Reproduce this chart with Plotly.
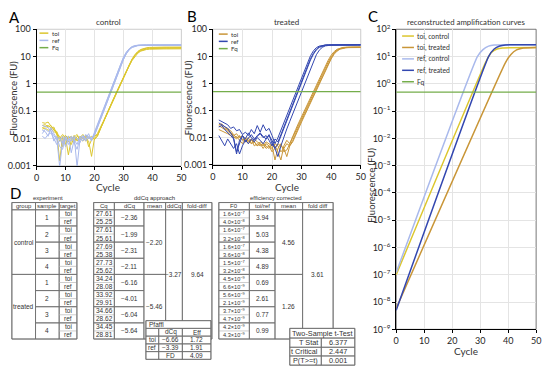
import plotly.graph_objects as go

W, H = 550, 375

# ---------------- data ----------------
CYCLES = list(range(1, 51))
START_CYCLE = 2
FQ = 0.5

CTRL_TOI = [
    [0.038, 0.036, 0.040, 0.028, 0.022, 0.016, 0.0015, 0.012, 0.010, 0.008, 0.006, 0.011, 0.009, 0.012, 0.010, 0.013, 0.005, 0.009, 0.011,
     0.015, 0.024, 0.041, 0.071, 0.122, 0.21, 0.36, 0.62, 1.07, 1.84, 3.1, 5.1, 8.2, 12, 15.5, 18.2, 20, 21, 21.6, 22, 22, 22.1, 22.1, 22.2, 22.2, 22.2, 22.3, 22.3, 22.3, 22.3],
    [0.030, 0.032, 0.026, 0.030, 0.020, 0.018, 0.010, 0.014, 0.011, 0.0025, 0.009, 0.013, 0.008, 0.011, 0.014, 0.010, 0.008, 0.0022, 0.010,
     0.012, 0.022, 0.040, 0.070, 0.12, 0.21, 0.36, 0.62, 1.06, 1.82, 3.05, 5.0, 8.0, 11.6, 15, 17.6, 19.3, 20.2, 20.7, 21, 21, 21.1, 21.1, 21.1, 21.2, 21.2, 21.2, 21.2, 21.3, 21.3],
    [0.025, 0.028, 0.030, 0.024, 0.026, 0.014, 0.012, 0.005, 0.013, 0.010, 0.012, 0.007, 0.012, 0.010, 0.008, 0.012, 0.011, 0.009, 0.013,
     0.013, 0.023, 0.039, 0.067, 0.115, 0.20, 0.34, 0.59, 1.01, 1.74, 2.95, 4.8, 7.6, 11, 14.2, 16.6, 18.2, 19.1, 19.6, 19.9, 20, 20, 20.1, 20.1, 20.1, 20.2, 20.2, 20.2, 20.2, 20.2],
    [0.022, 0.024, 0.020, 0.022, 0.018, 0.015, 0.008, 0.011, 0.006, 0.012, 0.010, 0.011, 0.014, 0.009, 0.011, 0.008, 0.010, 0.012, 0.009,
     0.012, 0.022, 0.038, 0.065, 0.112, 0.19, 0.33, 0.57, 0.98, 1.69, 2.85, 4.6, 7.2, 10.4, 13.4, 15.8, 17.3, 18.2, 18.6, 18.9, 19, 19, 19.1, 19.1, 19.1, 19.1, 19.2, 19.2, 19.2, 19.2],
]
CTRL_REF = [
    [0.020, 0.018, 0.012, 0.025, 0.015, 0.010, 0.0009, 0.008, 0.012, 0.006, 0.010, 0.012, 0.0009, 0.009, 0.011, 0.010, 0.015, 0.008,
     0.017, 0.032, 0.061, 0.116, 0.22, 0.42, 0.81, 1.55, 2.95, 5.5, 9.5, 14.5, 19.5, 23, 25, 26, 26.3, 26.4, 26.5, 26.5, 26.5, 26.6, 26.6, 26.6, 26.6, 26.6, 26.7, 26.7, 26.7, 26.7, 26.7],
    [0.015, 0.022, 0.018, 0.020, 0.008, 0.012, 0.005, 0.004, 0.010, 0.012, 0.003, 0.009, 0.006, 0.012, 0.008, 0.014, 0.010, 0.011,
     0.013, 0.025, 0.048, 0.092, 0.176, 0.34, 0.64, 1.23, 2.35, 4.4, 7.9, 12.8, 18, 22, 24.5, 25.6, 26, 26.1, 26.1, 26.2, 26.2, 26.2, 26.2, 26.3, 26.3, 26.3, 26.3, 26.3, 26.3, 26.3, 26.3],
    [0.030, 0.028, 0.025, 0.018, 0.012, 0.009, 0.011, 0.006, 0.010, 0.008, 0.012, 0.007, 0.004, 0.010, 0.013, 0.009, 0.012, 0.010,
     0.015, 0.029, 0.056, 0.106, 0.20, 0.39, 0.74, 1.41, 2.7, 5.0, 8.9, 14, 19.2, 23.2, 25.4, 26.4, 26.8, 26.9, 27, 27, 27, 27, 27.1, 27.1, 27.1, 27.1, 27.1, 27.1, 27.2, 27.2, 27.2],
    [0.012, 0.010, 0.014, 0.016, 0.010, 0.006, 0.008, 0.012, 0.005, 0.010, 0.008, 0.011, 0.010, 0.007, 0.012, 0.008, 0.011, 0.009,
     0.013, 0.025, 0.047, 0.09, 0.173, 0.33, 0.63, 1.21, 2.3, 4.3, 7.7, 12.5, 17.6, 21.5, 24, 25, 25.4, 25.5, 25.5, 25.6, 25.6, 25.6, 25.6, 25.6, 25.7, 25.7, 25.7, 25.7, 25.7, 25.7, 25.7],
]
TRT_REF = [
    [0.045, 0.040, 0.035, 0.030, 0.022, 0.025, 0.018, 0.020, 0.013, 0.016, 0.012, 0.020, 0.014, 0.028, 0.016, 0.030, 0.018, 0.022, 0.012, 0.006, 0.010,
     0.019, 0.036, 0.069, 0.13, 0.25, 0.47, 0.91, 1.74, 3.3, 6.0, 10.5, 16, 21, 24, 25.6, 26.2, 26.4, 26.5, 26.5, 26.5, 26.6, 26.6, 26.6, 26.6, 26.6, 26.6, 26.7, 26.7],
    [0.035, 0.030, 0.026, 0.022, 0.015, 0.010, 0.003, 0.006, 0.012, 0.009, 0.015, 0.010, 0.008, 0.012, 0.015, 0.011, 0.009, 0.013, 0.006, 0.004, 0.002, 0.005, 0.011,
     0.021, 0.040, 0.076, 0.145, 0.28, 0.53, 1.01, 1.93, 3.7, 6.8, 11.5, 17, 21.5, 24.3, 25.6, 26, 26.1, 26.1, 26.2, 26.2, 26.2, 26.2, 26.3, 26.3, 26.3, 26.3],
    [0.025, 0.028, 0.020, 0.016, 0.012, 0.009, 0.0025, 0.008, 0.012, 0.007, 0.010, 0.013, 0.009, 0.011, 0.014, 0.010, 0.012, 0.008, 0.005, 0.009, 0.007,
     0.013, 0.025, 0.049, 0.093, 0.18, 0.34, 0.64, 1.23, 2.35, 4.5, 8.2, 13, 18.5, 22.5, 25, 26.3, 26.8, 27, 27, 27.1, 27.1, 27.1, 27.1, 27.2, 27.2, 27.2, 27.2, 27.2],
    [0.012, 0.008, 0.005, 0.009, 0.006, 0.004, 0.006, 0.0025, 0.005, 0.008, 0.006, 0.009, 0.007, 0.010, 0.008, 0.006, 0.009, 0.012, 0.008, 0.004, 0.006,
     0.0116, 0.022, 0.043, 0.081, 0.156, 0.30, 0.56, 1.08, 2.06, 3.9, 7.3, 12, 17.3, 21.5, 24, 25.2, 25.6, 25.8, 25.8, 25.9, 25.9, 25.9, 25.9, 25.9, 26, 26, 26, 26],
]
TRT_TOI = [
    [0.030, 0.032, 0.025, 0.020, 0.016, 0.012, 0.014, 0.010, 0.012, 0.008, 0.010, 0.006, 0.009, 0.007, 0.006, 0.005, 0.007, 0.006, 0.005, 0.0015, 0.004, 0.006, 0.003, 0.0035, 0.006, 0.009,
     0.017, 0.029, 0.0495, 0.085, 0.146, 0.25, 0.44, 0.75, 1.29, 2.2, 3.8, 6.2, 9.6, 13.5, 17, 19.5, 20.8, 21.4, 21.6, 21.6, 21.7, 21.7, 21.7],
    [0.025, 0.028, 0.022, 0.018, 0.014, 0.011, 0.009, 0.012, 0.008, 0.010, 0.007, 0.009, 0.005, 0.006, 0.005, 0.006, 0.005, 0.004, 0.006, 0.005, 0.003, 0.0015, 0.005, 0.008, 0.006, 0.012,
     0.020, 0.035, 0.060, 0.10, 0.18, 0.30, 0.52, 0.90, 1.55, 2.65, 4.5, 7.2, 11, 15, 18.3, 20.3, 21.3, 21.8, 22, 22, 22.1, 22.1, 22.1],
    [0.020, 0.018, 0.016, 0.014, 0.012, 0.010, 0.011, 0.008, 0.006, 0.009, 0.006, 0.008, 0.007, 0.005, 0.006, 0.004, 0.006, 0.005, 0.004, 0.006, 0.005, 0.003, 0.004, 0.006, 0.005, 0.007,
     0.013, 0.022, 0.038, 0.065, 0.11, 0.19, 0.33, 0.57, 0.98, 1.7, 2.9, 4.9, 8, 12, 15.6, 18.4, 20, 20.7, 21, 21.1, 21.1, 21.2, 21.2],
    [0.028, 0.024, 0.020, 0.022, 0.018, 0.013, 0.010, 0.011, 0.009, 0.007, 0.008, 0.006, 0.007, 0.005, 0.007, 0.006, 0.004, 0.005, 0.003, 0.004, 0.006, 0.005, 0.004, 0.002, 0.005, 0.008,
     0.015, 0.025, 0.043, 0.074, 0.127, 0.22, 0.38, 0.65, 1.12, 1.93, 3.3, 5.5, 8.8, 12.8, 16.5, 19.2, 20.7, 21.4, 21.7, 21.8, 21.8, 21.9, 21.9],
]

# reconstructed curves (panel C)
REC_TOI_CTRL_X = [0, 32, 34, 36, 38, 50]
REC_TOI_CTRL_Y = [1.0e-7, 6.3, 14, 19, 20.7, 21.3]
REC_TOI_TRT_X = [0, 39, 41, 43, 45, 50]
REC_TOI_TRT_Y = [5.8e-9, 5.9, 12, 17.5, 20.3, 21.3]
REC_REF_CTRL_X = [0, 29, 31, 33, 35, 50]
REC_REF_CTRL_Y = [1.2e-7, 10, 18, 24, 26.5, 27]
REC_REF_TRT_X = [0, 33, 35, 37, 39, 50]
REC_REF_TRT_Y = [5e-9, 10, 19, 24.5, 26.6, 27]

# tables (panel D)
GROUPS = ["control", "treated"]
SAMPLES = ["1", "2", "3", "4"]
TARGETS = ["toi", "ref"]
CQ = ["27.61", "25.25", "27.61", "25.61", "27.69", "25.38", "27.73", "25.62",
      "34.24", "28.08", "33.92", "29.91", "34.66", "28.62", "34.45", "28.81"]
DCQ = ["−2.36", "−1.99", "−2.31", "−2.11", "−6.16", "−4.01", "−6.04", "−5.64"]
DCQ_MEAN = ["−2.20", "−5.46"]
DDCQ = "−3.27"
DDCQ_FOLD = "9.64"
F0_MANT = ["1.6", "4.0", "1.6", "3.2", "1.6", "3.6", "1.5", "3.2",
           "4.5", "6.6", "5.6", "2.1", "3.7", "4.7", "4.2", "4.3"]
F0_EXP = ["7", "8", "7", "8", "7", "8", "7", "8", "9", "9", "9", "9", "9", "9", "9", "9"]
TOI_REF = ["3.94", "5.03", "4.38", "4.89", "0.69", "2.61", "0.77", "0.99"]
EFF_MEAN = ["4.56", "1.26"]
EFF_FOLD = "3.61"
PFAFFL_ROWS = [["", "dCq", "Eff"], ["toi", "−6.66", "1.72"], ["ref", "−3.39", "1.91"], ["", "FD", "4.09"]]
TTEST_ROWS = [["T Stat", "6.377"], ["t Critical", "2.447"], ["P(T>=t)", "0.001"]]

# ---------------- styles ----------------
C_TOI_CTRL = "#dcc62e"
C_TOI_TRT = "#c99638"
C_REF_CTRL = "#a9b9ec"
C_REF_TRT = "#3347b0"
C_FQ = "#74ad4a"
FONT = "Lato"
TFONT = "Liberation Sans"
TXT = "#333333"
DARK = "#6f6f6f"
LIGHT = "#b8b8b8"

fig = go.Figure()


def add_curves(ys, color, xa, ya, width=1):
    for y in ys:
        x = CYCLES[START_CYCLE - 1:START_CYCLE - 1 + len(y)]
        fig.add_trace(go.Scatter(x=x, y=y, mode="lines", line=dict(color=color, width=width),
                                 xaxis=xa, yaxis=ya, showlegend=False, hoverinfo="skip"))


def add_fq(xa, ya):
    fig.add_trace(go.Scatter(x=[CYCLES[0] - 1, CYCLES[-1]], y=[FQ, FQ], mode="lines",
                             line=dict(color=C_FQ, width=1.2), xaxis=xa, yaxis=ya,
                             showlegend=False, hoverinfo="skip"))


# Panel A
add_curves(CTRL_TOI, C_TOI_CTRL, "x", "y")
add_curves(CTRL_REF, C_REF_CTRL, "x", "y")
add_fq("x", "y")
# Panel B
add_curves(TRT_TOI, C_TOI_TRT, "x2", "y2")
add_curves(TRT_REF, C_REF_TRT, "x2", "y2")
add_fq("x2", "y2")
# Panel C
for xs, ys, c in [(REC_TOI_CTRL_X, REC_TOI_CTRL_Y, C_TOI_CTRL), (REC_TOI_TRT_X, REC_TOI_TRT_Y, C_TOI_TRT),
                  (REC_REF_CTRL_X, REC_REF_CTRL_Y, C_REF_CTRL), (REC_REF_TRT_X, REC_REF_TRT_Y, C_REF_TRT)]:
    fig.add_trace(go.Scatter(x=xs, y=ys, mode="lines", line=dict(color=c, width=1.5, shape="spline", smoothing=0.4),
                             xaxis="x3", yaxis="y3", showlegend=False, hoverinfo="skip"))
add_fq("x3", "y3")


def px(v):
    return v / W


def py(v):
    return 1 - v / H


shapes = []
annots = []


def text(x, y, s, size=6.5, font=TFONT, xanchor="center", color=TXT, angle=0):
    annots.append(dict(x=px(x), y=py(y), xref="paper", yref="paper", text=s, showarrow=False,
                       xanchor=xanchor, yanchor="middle", textangle=angle,
                       font=dict(family=font, size=size, color=color)))


def rect(x0, y0, x1, y1, color=DARK, w=0.8, fill=None):
    d = dict(type="rect", xref="paper", yref="paper", x0=px(x0), x1=px(x1), y0=py(y1), y1=py(y0),
             line=dict(color=color, width=w))
    if fill:
        d["fillcolor"] = fill
    shapes.append(d)


def hline(x0, x1, y, color=LIGHT, w=0.7):
    shapes.append(dict(type="line", xref="paper", yref="paper", x0=px(x0), x1=px(x1), y0=py(y), y1=py(y),
                       line=dict(color=color, width=w)))


# axes
tick_font = dict(family=FONT, size=9, color="#262626")
def xaxis(domain, anchor):
    return dict(domain=[px(domain[0]), px(domain[1])], anchor=anchor, range=[0, 50], dtick=10,
                showline=True, linecolor="#000", linewidth=1, ticks="outside", ticklen=3, tickcolor="#000",
                showgrid=True, gridcolor="#e4e4e4", gridwidth=0.7, zeroline=False, tickfont=tick_font)

def yaxis(domain, anchor, rng, vals, labels):
    return dict(domain=[py(domain[1]), py(domain[0])], anchor=anchor, type="log", range=rng,
                tickvals=vals, ticktext=labels, showline=True, linecolor="#000", linewidth=1,
                ticks="outside", ticklen=3, tickcolor="#000", showgrid=True, gridcolor="#e4e4e4",
                gridwidth=0.7, zeroline=False, tickfont=tick_font)

AB_VALS = [0.001, 0.01, 0.1, 1, 10, 100]
AB_TEXT = ["0.001", "0.01", "0.1", "1", "10", "100"]
C_VALS = [10.0 ** k for k in range(-9, 3)]
C_TEXT = ["10<sup>" + (str(k) if k >= 0 else "−" + str(-k)) + "</sup>" for k in range(-9, 3)]

A_X, A_Y = (34, 181), (23, 164)
B_X, B_Y = (213, 363), (23, 163)
C_X, C_Y = (399, 541), (23, 333)

layout = dict(
    width=W, height=H, margin=dict(l=0, r=0, t=0, b=0), paper_bgcolor="white", plot_bgcolor="white",
    showlegend=False,
    xaxis=xaxis(A_X, "y"), yaxis=yaxis(A_Y, "x", [-3, 2], AB_VALS, AB_TEXT),
    xaxis2=xaxis(B_X, "y2"), yaxis2=yaxis(B_Y, "x2", [-3, 2], AB_VALS, AB_TEXT),
    xaxis3=xaxis(C_X, "y3"), yaxis3=yaxis(C_Y, "x3", [-9, 2], C_VALS, C_TEXT),
)

# plot frames
for xr, yr, col in [("x", "y", "#bfbfbf"), ("x2", "y2", "#bfbfbf"), ("x3", "y3", "#555555")]:
    shapes.append(dict(type="rect", xref=xr + " domain", yref=yr + " domain", x0=0, x1=1, y0=0, y1=1,
                       line=dict(color=col, width=0.8), layer="below"))

# panel titles, letters, axis titles
text(12, 10, "A", 15, FONT, color="#000")
text(192, 9, "B", 15, FONT, color="#000")
text(375, 9, "C", 15, FONT, color="#000")
text(13, 192, "D", 15, FONT, color="#000")
text(107, 16, "control", 8, FONT)
text(288, 16, "treated", 8, FONT)
text(470, 15, "reconstructed amplification curves", 7.8, FONT)
text(11, 94, "Fluorescence (FU)", 9.5, FONT, angle=-90)
text(189, 94, "Fluorescence (FU)", 9.5, FONT, angle=-90)
text(374, 184, "Fluorescence (FU)", 9.5, FONT, angle=-90)
text(107, 185.5, "Cycle", 10, FONT)
text(288, 185.5, "Cycle", 10, FONT)
text(470, 355, "Cycle", 10, FONT)


# legends (drawn)
def legend(items, x0, y0, dy, ln, size):
    for i, (name, col) in enumerate(items):
        y = y0 + i * dy
        shapes.append(dict(type="line", xref="paper", yref="paper", x0=px(x0), x1=px(x0 + ln),
                           y0=py(y), y1=py(y), line=dict(color=col, width=1.5)))
        text(x0 + ln + 1.5, y, name, size, FONT, xanchor="left")


legend([("toi", C_TOI_CTRL), ("ref", C_REF_CTRL), ("Fq", C_FQ)], 37, 27, 7.5, 9, 6.2)
legend([("toi", C_TOI_TRT), ("ref", C_REF_TRT), ("Fq", C_FQ)], 219, 28, 7.5, 9, 6.2)
legend([("toi, control", C_TOI_CTRL), ("toi, treated", C_TOI_TRT), ("ref, control", C_REF_CTRL),
        ("ref, treated", C_REF_TRT), ("Fq", C_FQ)], 405, 30, 11.8, 12, 6.8)

# ---------------- tables ----------------
T_TOP, T_HDR, T_BOT = 202, 209.5, 343
NROW = 16
RH = (T_BOT - T_HDR) / NROW


def ry(i):
    return T_HDR + i * RH


def pair_col(x0, x1, labels):
    for p in range(NROW // 2):
        rect(x0, ry(2 * p), x1, ry(2 * p + 2))
        hline(x0, x1, ry(2 * p + 1))
        text((x0 + x1) / 2, (ry(2 * p) + ry(2 * p + 1)) / 2, labels[2 * p])
        text((x0 + x1) / 2, (ry(2 * p + 1) + ry(2 * p + 2)) / 2, labels[2 * p + 1])


def merged_col(x0, x1, labels, span):
    for i, s in enumerate(labels):
        rect(x0, ry(i * span), x1, ry((i + 1) * span))
        text((x0 + x1) / 2, (ry(i * span) + ry((i + 1) * span)) / 2, s)


def headers(xs, labels):
    for i, s in enumerate(labels):
        rect(xs[i], T_TOP, xs[i + 1], T_HDR)
        text((xs[i] + xs[i + 1]) / 2, (T_TOP + T_HDR) / 2 + 0.3, s, 6)


# table 1: experiment
T1 = [9, 33, 57, 75]
text(46, 197, "experiment", 6)
headers(T1, ["group", "sample", "target"])
merged_col(T1[0], T1[1], GROUPS, 8)
merged_col(T1[1], T1[2], SAMPLES * 2, 2)
pair_col(T1[2], T1[3], TARGETS * 8)
rect(T1[0], T_TOP, T1[-1], T_BOT)

# table 2: ddCq approach
T2 = [92, 113, 143, 165, 182, 212]
text(154, 197, "ddCq approach", 6)
headers(T2, ["Cq", "dCq", "mean", "ddCq", "fold-diff"])
pair_col(T2[0], T2[1], CQ)
merged_col(T2[1], T2[2], DCQ, 2)
merged_col(T2[2], T2[3], DCQ_MEAN, 8)
merged_col(T2[3], T2[4], [DDCQ], 16)
merged_col(T2[4], T2[5], [DDCQ_FOLD], 16)
rect(T2[0], T_TOP, T2[-1], T_BOT)

# Pfaffl box
PF_X = [145, 158, 182, 211]
PF_Y = [324, 332, 340, 348, 356, 364]
rect(PF_X[0], PF_Y[0], PF_X[-1], PF_Y[-1], fill="white")
rect(PF_X[0], PF_Y[0], PF_X[-1], PF_Y[1])
text(PF_X[0] + 1.5, (PF_Y[0] + PF_Y[1]) / 2, "Pfaffl", 6.5, xanchor="left")
for r, row in enumerate(PFAFFL_ROWS):
    for c, s in enumerate(row):
        rect(PF_X[c], PF_Y[r + 1], PF_X[c + 1], PF_Y[r + 2])
        if s:
            text((PF_X[c] + PF_X[c + 1]) / 2, (PF_Y[r + 1] + PF_Y[r + 2]) / 2, s, 6.5)

# table 3: efficiency corrected
T3 = [219, 250, 276, 304, 335]
text(277, 197, "efficiency corrected", 6)
headers(T3, ["F0", "toi/ref", "mean", "fold diff"])
F0_TXT = [m + "×10<sup>−" + e + "</sup>" for m, e in zip(F0_MANT, F0_EXP)]
for p in range(NROW // 2):
    x0, x1 = T3[0], T3[1]
    rect(x0, ry(2 * p), x1, ry(2 * p + 2))
    hline(x0, x1, ry(2 * p + 1))
    for k in range(2):
        annots.append(dict(x=px(x0 + 2), y=py((ry(2 * p + k) + ry(2 * p + k + 1)) / 2), xref="paper", yref="paper",
                           text=F0_TXT[2 * p + k], showarrow=False, xanchor="left", yanchor="middle",
                           font=dict(family=TFONT, size=5.6, color=TXT)))
merged_col(T3[1], T3[2], TOI_REF, 2)
merged_col(T3[2], T3[3], EFF_MEAN, 8)
merged_col(T3[3], T3[4], [EFF_FOLD], 16)
rect(T3[0], T_TOP, T3[-1], T_BOT)

# t-test box
TT_X = [291, 323, 357]
TT_Y = [332, 342, 351.5, 360.5, 370]
rect(TT_X[0], TT_Y[0], TT_X[-1], TT_Y[-1], fill="white")
rect(TT_X[0], TT_Y[0], TT_X[-1], TT_Y[1])
text((TT_X[0] + TT_X[-1]) / 2, (TT_Y[0] + TT_Y[1]) / 2, "Two-Sample t-Test", 7.3)
for r, (lab, val) in enumerate(TTEST_ROWS):
    rect(TT_X[0], TT_Y[r + 1], TT_X[1], TT_Y[r + 2])
    rect(TT_X[1], TT_Y[r + 1], TT_X[2], TT_Y[r + 2])
    text(TT_X[1] - 1, (TT_Y[r + 1] + TT_Y[r + 2]) / 2, lab, 7.3, xanchor="right")
    text((TT_X[1] + TT_X[2]) / 2, (TT_Y[r + 1] + TT_Y[r + 2]) / 2, val, 7.3)

layout["shapes"] = shapes
layout["annotations"] = annots
fig.update_layout(**layout)
fig.write_html("out.html", config={"displayModeBar": False},
               post_script="document.body.style.margin='0';document.body.style.overflow='hidden';")
